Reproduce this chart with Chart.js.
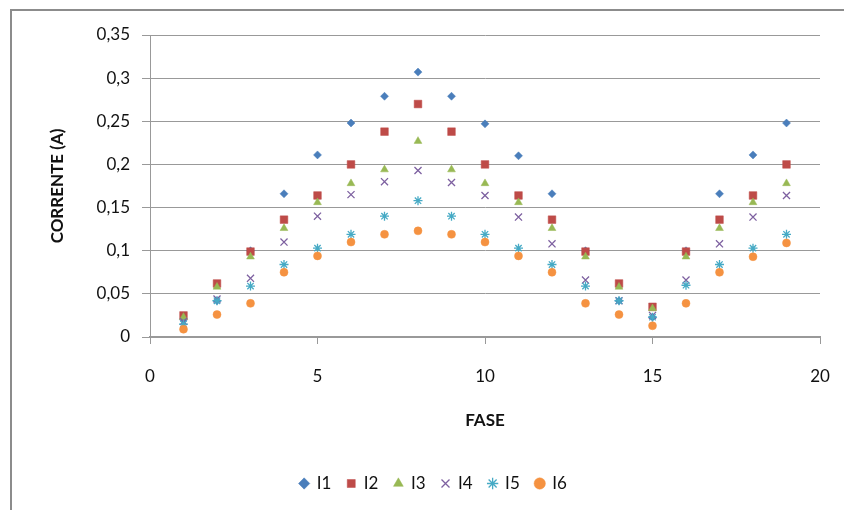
<!DOCTYPE html>
<html>
<head>
<meta charset="utf-8">
<script src="https://cdn.jsdelivr.net/npm/chart.js@4"></script>
<style>
  body { margin: 0; background: #fff; }
  #wrap { position: relative; width: 844px; height: 510px; }
  #frame { position: absolute; left: 10px; top: 9px; width: 840px; height: 520px;
           border-top: 2px solid #8c8c8c; border-left: 2px solid #8c8c8c; }
  canvas { position: absolute; left: 0; top: 0; }
</style>
</head>
<body>
<div id="wrap">
  <div id="frame"></div>
  <canvas id="chart" width="844" height="510"></canvas>
</div>
<script>
// phase number (x)
const fases = [1, 2, 3, 4, 5, 6, 7, 8, 9, 10, 11, 12, 13, 14, 15, 16, 17, 18, 19];

// currents (A)
const i1 = [0.02, 0.042, 0.1, 0.166, 0.211, 0.248, 0.279, 0.307, 0.279, 0.247, 0.21, 0.166, 0.1, 0.042, 0.023, 0.1, 0.166, 0.211, 0.248];
const i2 = [0.025, 0.062, 0.099, 0.136, 0.164, 0.2, 0.238, 0.27, 0.238, 0.2, 0.164, 0.136, 0.099, 0.062, 0.035, 0.099, 0.136, 0.164, 0.2];
const i3 = [0.023, 0.058, 0.093, 0.126, 0.156, 0.178, 0.194, 0.227, 0.194, 0.178, 0.156, 0.126, 0.093, 0.058, 0.033, 0.093, 0.126, 0.156, 0.178];
const i4 = [0.018, 0.044, 0.068, 0.11, 0.14, 0.165, 0.18, 0.193, 0.179, 0.164, 0.139, 0.108, 0.066, 0.042, 0.025, 0.066, 0.108, 0.139, 0.164];
const i5 = [0.015, 0.042, 0.059, 0.084, 0.103, 0.119, 0.14, 0.158, 0.14, 0.119, 0.103, 0.084, 0.059, 0.042, 0.023, 0.06, 0.084, 0.103, 0.119];
const i6 = [0.009, 0.026, 0.039, 0.075, 0.094, 0.11, 0.119, 0.123, 0.119, 0.11, 0.094, 0.075, 0.039, 0.026, 0.013, 0.039, 0.075, 0.093, 0.109];

const yTickLabels = ['0', '0,05', '0,1', '0,15', '0,2', '0,25', '0,3', '0,35'];
const xTickLabels = ['0', '5', '10', '15', '20'];

const seriesNames = ['I1', 'I2', 'I3', 'I4', 'I5', 'I6'];
const seriesValues = [i1, i2, i3, i4, i5, i6];
const colors = ['#4a7ebb', '#be4b48', '#98b954', '#7d60a0', '#46aac5', '#f59241'];
const shapes = ['rectRot', 'rect', 'triangle', 'crossRot', 'star', 'circle'];
const radii = [4, 5.4, 4.5, 5, 4.5, 4];

const FONT = 'Lato';

const datasets = seriesNames.map((name, k) => ({
  label: name,
  data: fases.map((x, i) => ({ x: x, y: seriesValues[k][i] })),
  pointStyle: shapes[k],
  pointRadius: radii[k],
  pointHoverRadius: radii[k],
  backgroundColor: colors[k],
  borderColor: colors[k],
  pointBorderWidth: (shapes[k] === 'crossRot' || shapes[k] === 'star') ? 1.3 : 0.5,
  showLine: false,
  order: 5 - k, // later series drawn on top, like the original
}));

const ctx = document.getElementById('chart').getContext('2d');
new Chart(ctx, {
  type: 'scatter',
  data: { datasets: datasets },
  options: {
    responsive: false,
    animation: false,
    layout: { padding: { left: 47, top: 35, right: 24, bottom: 8 } },
    plugins: {
      tooltip: { enabled: false },
      legend: {
        position: 'bottom',
        labels: {
          usePointStyle: true,
          boxWidth: 8,
          boxHeight: 8,
          padding: 16,
          color: '#111',
          font: { family: FONT, size: 17 },
          sort: (a, b) => a.datasetIndex - b.datasetIndex,
        },
      },
    },
    scales: {
      x: {
        type: 'linear',
        min: 0,
        max: 20,
        ticks: {
          stepSize: 5,
          color: '#111',
          padding: 22,
          font: { family: FONT, size: 17 },
          callback: (v) => xTickLabels[v / 5],
        },
        grid: { drawOnChartArea: false, drawTicks: true, tickLength: 7, color: '#999' },
        border: { color: '#999', width: 2 },
        title: {
          display: true,
          text: 'FASE',
          color: '#111',
          font: { family: FONT, size: 17, weight: 'bold' },
          padding: { top: 4, bottom: 28 },
        },
        afterFit: (s) => { s.height = 122; s.paddingRight = 10; },
      },
      y: {
        min: 0,
        max: 0.35,
        ticks: {
          stepSize: 0.05,
          color: '#111',
          padding: 12,
          font: { family: FONT, size: 17 },
          callback: (v) => yTickLabels[Math.round(v / 0.05)],
        },
        grid: { color: '#999', lineWidth: 1, tickLength: 8 },
        border: { color: '#999' },
        title: {
          display: true,
          text: 'CORRENTE (A)',
          color: '#111',
          font: { family: FONT, size: 17, weight: 'bold' },
          padding: { top: 0, bottom: 4 },
        },
        afterFit: (s) => { s.width = 103; },
      },
    },
  },
});
</script>
</body>
</html>
